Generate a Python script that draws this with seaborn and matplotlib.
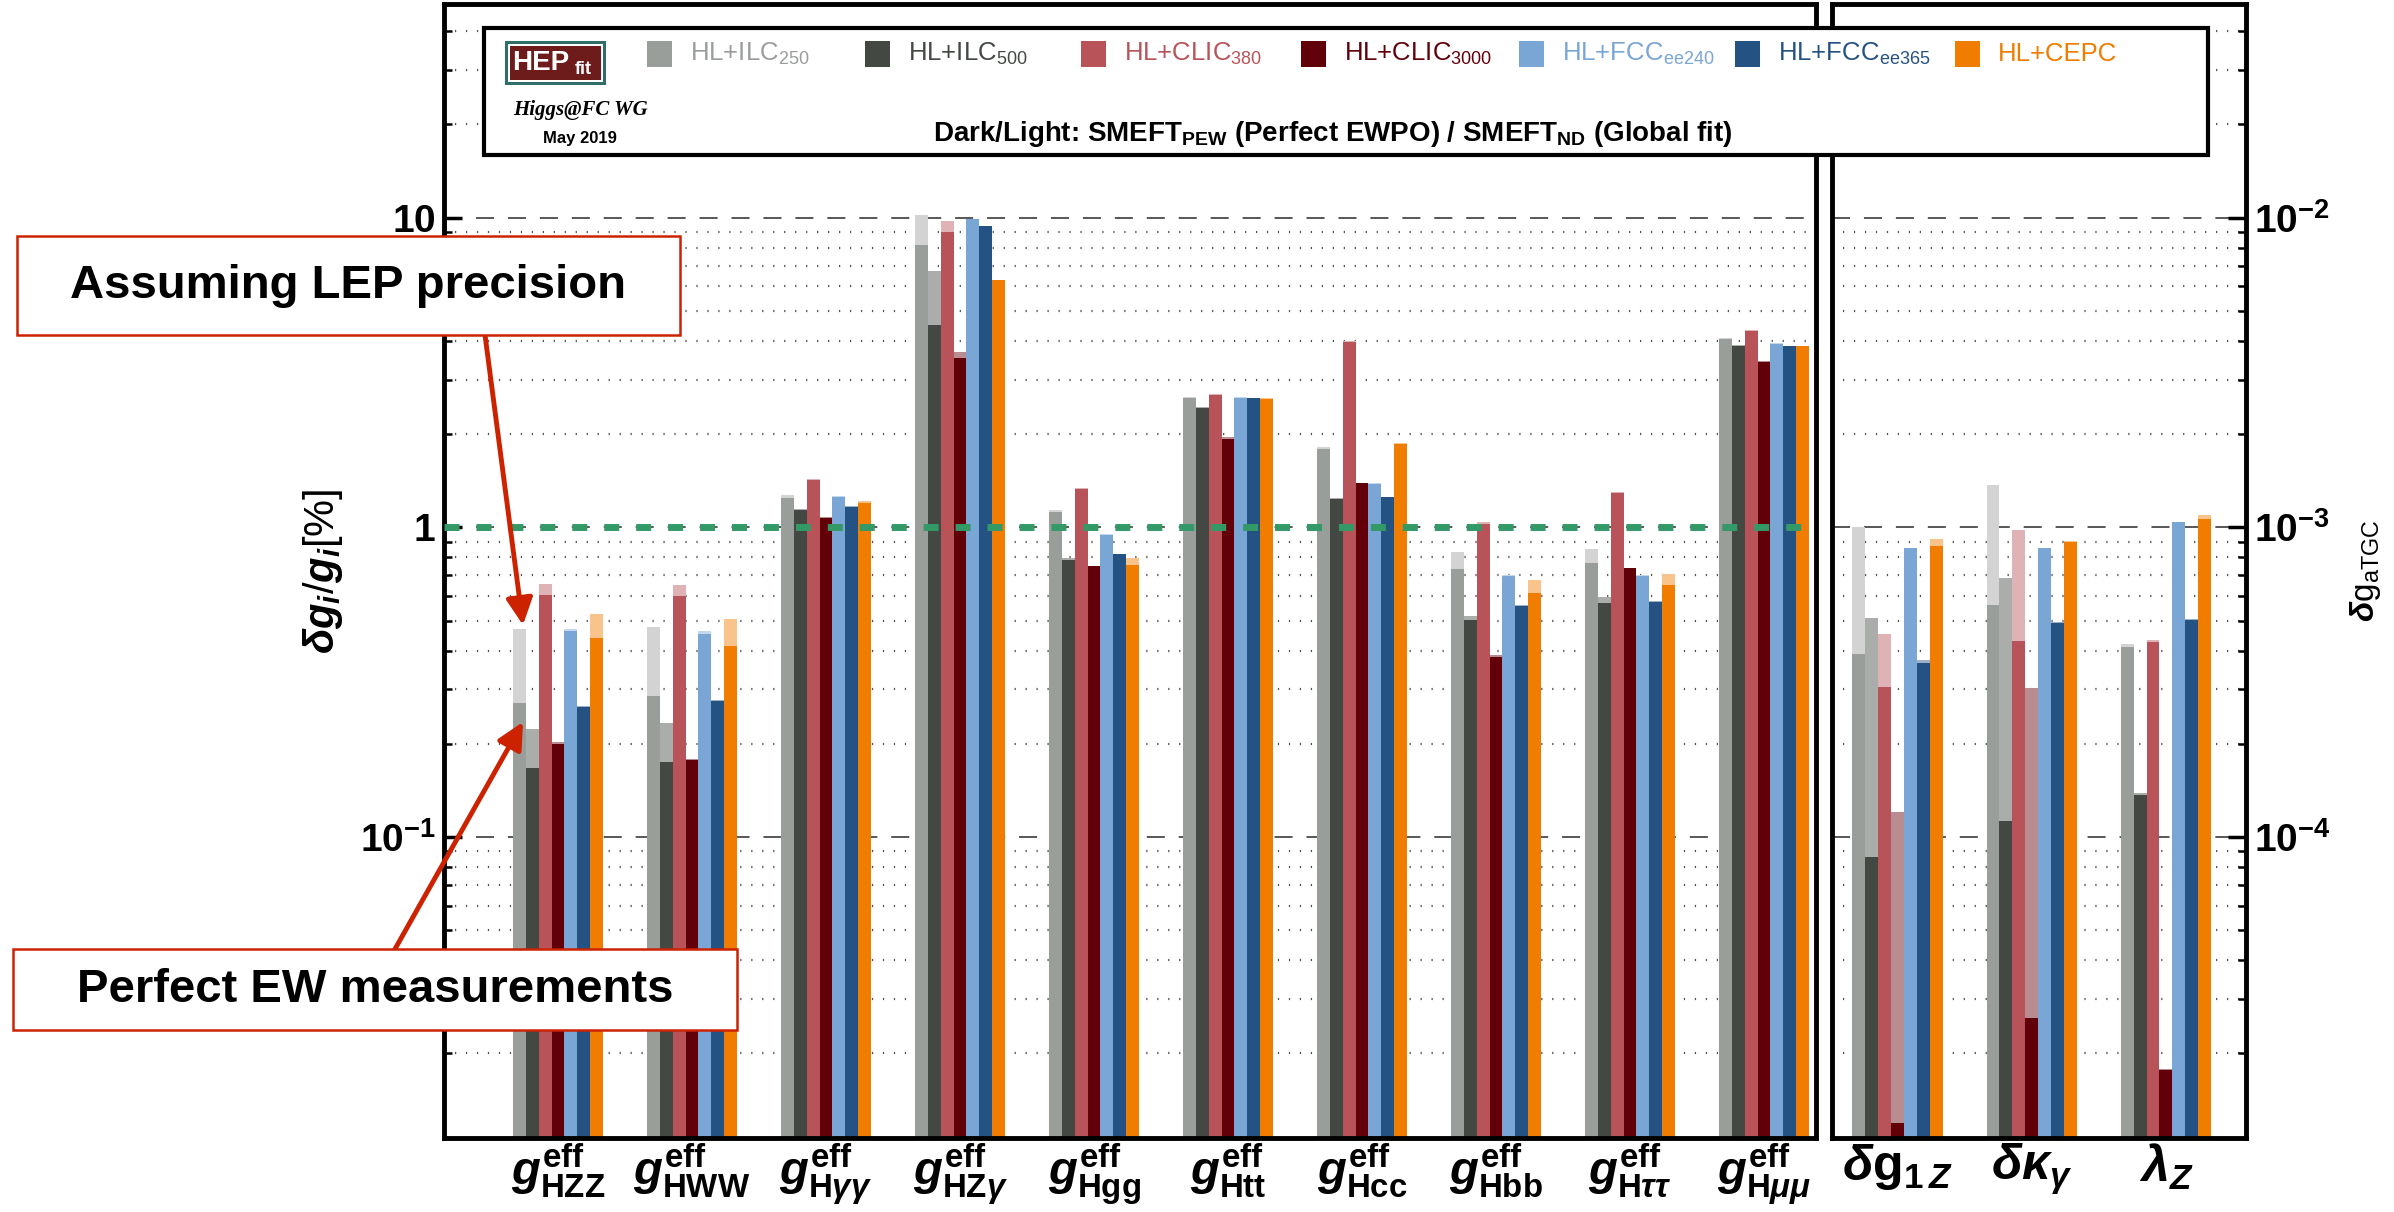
import numpy as np
import pandas as pd
import matplotlib.pyplot as plt
import matplotlib.ticker as mticker
from matplotlib.patches import Rectangle, FancyArrowPatch
from matplotlib.colors import to_rgb
import seaborn as sns

# colliders (hue order) and their legend labels
colliders = ['HL+ILC250', 'HL+ILC500', 'HL+CLIC380', 'HL+CLIC3000',
             'HL+FCCee240', 'HL+FCCee365', 'HL+CEPC']
legend_labels = [r'HL+ILC$_{250}$', r'HL+ILC$_{500}$', r'HL+CLIC$_{380}$',
                 r'HL+CLIC$_{3000}$', r'HL+FCC$_{\mathrm{ee}240}$',
                 r'HL+FCC$_{\mathrm{ee}365}$', 'HL+CEPC']
dark_colors = ['#9a9e9a', '#434843', '#b8535a', '#62000a',
               '#7aa6d6', '#245283', '#f07c00']

# Higgs couplings (left panel, in %)
higgs_couplings = ['HZZ', 'HWW', 'Hgaga', 'HZga', 'Hgg', 'Htt', 'Hcc', 'Hbb', 'Htata', 'Hmumu']
higgs_ticklabels = [r'$g^{\mathbf{eff}}_{\mathbf{HZZ}}$', r'$g^{\mathbf{eff}}_{\mathbf{HWW}}$',
                    r'$g^{\mathbf{eff}}_{\mathbf{H}\gamma\gamma}$', r'$g^{\mathbf{eff}}_{\mathbf{HZ}\gamma}$',
                    r'$g^{\mathbf{eff}}_{\mathbf{Hgg}}$', r'$g^{\mathbf{eff}}_{\mathbf{Htt}}$',
                    r'$g^{\mathbf{eff}}_{\mathbf{Hcc}}$', r'$g^{\mathbf{eff}}_{\mathbf{Hbb}}$',
                    r'$g^{\mathbf{eff}}_{\mathbf{H}\tau\tau}$', r'$g^{\mathbf{eff}}_{\mathbf{H}\mu\mu}$']

# light = SMEFT_ND (global fit), one row per collider
higgs_nd = [
    [0.468, 0.478, 1.27, 10.2, 1.14, 2.64, 1.82, 0.83, 0.85, 4.10],
    [0.224, 0.234, 1.15, 6.75, 0.794, 2.44, 1.247, 0.518, 0.597, 3.87],
    [0.658, 0.651, 1.43, 9.79, 1.344, 2.69, 4.00, 1.043, 1.30, 4.33],
    [0.203, 0.178, 1.08, 3.69, 0.750, 1.963, 1.394, 0.386, 0.740, 3.44],
    [0.471, 0.464, 1.26, 9.94, 0.950, 2.63, 1.39, 0.700, 0.700, 3.93],
    [0.264, 0.276, 1.17, 9.40, 0.822, 2.61, 1.257, 0.560, 0.577, 3.85],
    [0.525, 0.507, 1.22, 6.30, 0.794, 2.61, 1.877, 0.674, 0.708, 3.85],
]
# dark = SMEFT_PEW (perfect EWPO)
higgs_pew = [
    [0.270, 0.285, 1.24, 8.15, 1.12, 2.62, 1.79, 0.735, 0.767, 4.07],
    [0.167, 0.174, 1.14, 4.49, 0.787, 2.43, 1.232, 0.502, 0.569, 3.86],
    [0.604, 0.599, 1.42, 9.02, 1.33, 2.68, 3.98, 1.022, 1.29, 4.32],
    [0.200, 0.177, 1.07, 3.52, 0.748, 1.935, 1.39, 0.382, 0.739, 3.43],
    [0.464, 0.453, 1.25, 9.90, 0.947, 2.62, 1.385, 0.698, 0.698, 3.92],
    [0.262, 0.274, 1.166, 9.39, 0.820, 2.61, 1.256, 0.558, 0.575, 3.84],
    [0.438, 0.415, 1.20, 6.28, 0.754, 2.60, 1.854, 0.612, 0.651, 3.84],
]

# triple gauge couplings (right panel)
tgc_couplings = ['dg1Z', 'dkga', 'lamZ']
tgc_ticklabels = [r'$\delta\mathbf{g}_{\mathbf{1}\,Z}$', r'$\delta\kappa_{\gamma}$', r'$\lambda_{Z}$']
tgc_nd = [
    [1.00e-3, 1.37e-3, 0.420e-3],
    [0.510e-3, 0.685e-3, 0.139e-3],
    [0.452e-3, 0.981e-3, 0.433e-3],
    [0.120e-3, 0.303e-3, 0.0178e-3],
    [0.859e-3, 0.859e-3, 1.041e-3],
    [0.372e-3, 0.493e-3, 0.505e-3],
    [0.917e-3, 0.902e-3, 1.094e-3],
]
tgc_pew = [
    [0.390e-3, 0.560e-3, 0.411e-3],
    [0.0859e-3, 0.1125e-3, 0.1364e-3],
    [0.304e-3, 0.430e-3, 0.426e-3],
    [0.0119e-3, 0.0261e-3, 0.0177e-3],
    [0.855e-3, 0.855e-3, 1.038e-3],
    [0.364e-3, 0.490e-3, 0.502e-3],
    [0.868e-3, 0.895e-3, 1.065e-3],
]

W, H = 2394, 1212
Y_LO, Y_HI = 0.0107, 49.0

sns.set_style('white')
plt.rcParams['font.family'] = ['Liberation Sans', 'DejaVu Sans']
plt.rcParams['mathtext.fontset'] = 'custom'
plt.rcParams['mathtext.rm'] = 'Liberation Sans'
plt.rcParams['mathtext.it'] = 'Liberation Sans:bold:italic'
plt.rcParams['mathtext.bf'] = 'Liberation Sans:bold'
plt.rcParams['lines.scale_dashes'] = False
for k in ['text.color', 'axes.labelcolor', 'xtick.color', 'ytick.color']:
    plt.rcParams[k] = 'black'

# light tones = dark colour at ~45% over white
light_colors = [tuple(0.45 * np.array(to_rgb(c)) + 0.55) for c in dark_colors]


def fx(px):
    return px / W


def fy(py):
    return 1 - py / H


def to_long(names, nd, pew):
    rows = []
    for i, col in enumerate(colliders):
        for j, name in enumerate(names):
            rows.append((name, col, nd[i][j], pew[i][j]))
    return pd.DataFrame(rows, columns=['coupling', 'collider', 'nd', 'pew'])


def draw_bars(ax, df, names):
    ax.set_yscale('log')
    for col, pal in (('nd', light_colors), ('pew', dark_colors)):
        sns.barplot(data=df, x='coupling', y=col, hue='collider', order=names,
                    hue_order=colliders, palette=pal, width=0.675, errorbar=None,
                    legend=False, linewidth=0, saturation=1, ax=ax)


def style_axis(ax, names, ticklabels, labelsize):
    n = len(names)
    ax.set_xticks(range(n))
    ax.set_xticklabels(ticklabels)
    ax.set_xticks(np.arange(0.5, n - 1), minor=True)
    ax.tick_params(axis='x', which='major', length=0, pad=3, labelsize=labelsize)
    ax.tick_params(axis='x', which='minor', direction='in', length=9.5, width=2.5)
    ax.set_xlabel('')
    ax.set_axisbelow(True)
    ax.yaxis.set_minor_locator(mticker.LogLocator(base=10, subs=np.arange(2, 10), numticks=20))
    ax.yaxis.set_minor_formatter(mticker.NullFormatter())
    ax.grid(False, axis='x')
    ax.grid(True, which='major', axis='y', color='#4a4a4a', lw=1.3, linestyle=(0, (13, 10)))
    ax.grid(True, which='minor', axis='y', color='#555555', lw=1.6, linestyle=(0, (0.9, 7)))
    ax.tick_params(axis='y', which='major', direction='in', length=13, width=2.5,
                   labelsize=28, pad=6)
    ax.tick_params(axis='y', which='minor', direction='in', length=6, width=1.8)
    for sp in ax.spines.values():
        sp.set_linewidth(3.5)
        sp.set_color('black')


fig = plt.figure(figsize=(W / 100, H / 100), dpi=100)
ax1 = fig.add_axes([fx(444), fy(1137.5), (1816 - 444) / W, (1137.5 - 4) / H])
ax2 = fig.add_axes([fx(1832), fy(1137.5), (2246 - 1832) / W, (1137.5 - 4) / H])

# left panel: Higgs couplings
draw_bars(ax1, to_long(higgs_couplings, higgs_nd, higgs_pew), higgs_couplings)
style_axis(ax1, higgs_couplings, higgs_ticklabels, 34)
ax1.set_xlim(-0.851, 9.388)
ax1.set_ylim(Y_LO, Y_HI)
ax1.yaxis.set_major_locator(mticker.FixedLocator([0.1, 1, 10]))
ax1.yaxis.set_major_formatter(mticker.FixedFormatter(
    [r'$\mathbf{10^{-1}}$', r'$\mathbf{1}$', r'$\mathbf{10}$']))
ax1.tick_params(axis='y', which='both', left=True, right=False)
ax1.set_ylabel(r'$\delta g_i/g_i[\%]$', fontsize=30)
ax1.yaxis.set_label_coords(-0.072, 0.5)
ax1.axhline(1, color='#339966', lw=5, linestyle=(0, (10.8, 12.2)), zorder=5)

# right panel: aTGC
draw_bars(ax2, to_long(tgc_couplings, tgc_nd, tgc_pew), tgc_couplings)
style_axis(ax2, tgc_couplings, tgc_ticklabels, 36)
ax2.set_xlim(-0.49, 2.597)
ax2.set_ylim(Y_LO * 1e-3, Y_HI * 1e-3)
ax2.yaxis.tick_right()
ax2.yaxis.set_label_position('right')
ax2.yaxis.set_major_locator(mticker.FixedLocator([1e-4, 1e-3, 1e-2]))
ax2.yaxis.set_major_formatter(mticker.FixedFormatter(
    [r'$\mathbf{10^{-4}}$', r'$\mathbf{10^{-3}}$', r'$\mathbf{10^{-2}}$']))
ax2.tick_params(axis='y', which='both', left=False, right=True)
ax2.set_ylabel(r'$\delta\mathrm{g}_{\mathrm{aTGC}}$', fontsize=24)
ax2.yaxis.set_label_coords(1.246, 0.5)

# legend box across the top
fig.add_artist(Rectangle((fx(484), fy(155)), (2208 - 484) / W, (155 - 28) / H,
                         transform=fig.transFigure, facecolor='white',
                         edgecolor='black', lw=3, zorder=10))
sq_left = [647, 865, 1081, 1301, 1519, 1735, 1955]
for x0, lab, c in zip(sq_left, legend_labels, dark_colors):
    fig.add_artist(Rectangle((fx(x0), fy(67)), 25 / W, 26 / H, transform=fig.transFigure,
                             facecolor=c, edgecolor='none', zorder=11))
    fig.text(fx(x0 + 43), fy(54), lab, color=c, fontsize=18.5, va='center', ha='left', zorder=11)

# HEPfit logo
fig.add_artist(Rectangle((fx(505), fy(85)), 101 / W, 44 / H, transform=fig.transFigure,
                         facecolor='#2f6e69', edgecolor='none', zorder=11))
fig.add_artist(Rectangle((fx(508), fy(82)), 95 / W, 38 / H, transform=fig.transFigure,
                         facecolor='white', edgecolor='none', zorder=11))
fig.add_artist(Rectangle((fx(510), fy(80)), 91 / W, 34 / H, transform=fig.transFigure,
                         facecolor='#6d1b1b', edgecolor='none', zorder=11))
fig.text(fx(512), fy(63), 'HEP', color='white', fontsize=20, fontweight='bold',
         va='center', ha='left', zorder=12)
fig.text(fx(575), fy(70), 'fit', color='white', fontsize=13, fontweight='bold',
         va='center', ha='left', zorder=12)
fig.text(fx(581), fy(110), 'Higgs@FC WG', family=['Liberation Serif', 'DejaVu Serif'],
         style='italic', fontweight='bold', fontsize=15, ha='center', va='center', zorder=12)
fig.text(fx(580), fy(138), 'May 2019', fontsize=12, fontweight='bold',
         ha='center', va='center', zorder=12)
fig.text(fx(1333), fy(134),
         r'Dark/Light: SMEFT$_{\mathbf{PEW}}$ (Perfect EWPO) / SMEFT$_{\mathbf{ND}}$ (Global fit)',
         fontsize=20, fontweight='bold', ha='center', va='center', zorder=12)

# annotation boxes and arrows
red = '#cc2200'
for (x0, y0, x1, y1, cx, cy, txt) in [(17, 236, 680, 335, 348, 286, 'Assuming LEP precision'),
                                       (13, 949, 737, 1030, 375, 990, 'Perfect EW measurements')]:
    fig.add_artist(Rectangle((fx(x0), fy(y1)), (x1 - x0) / W, (y1 - y0) / H,
                             transform=fig.transFigure, facecolor='white',
                             edgecolor=red, lw=1.8, zorder=12))
    fig.text(fx(cx), fy(cy), txt, fontsize=34, fontweight='bold',
             ha='center', va='center', zorder=13)
for (xa, ya, xb, yb) in [(485, 335, 523, 625), (395, 949, 523, 722)]:
    fig.add_artist(FancyArrowPatch((fx(xa), fy(ya)), (fx(xb), fy(yb)),
                                   transform=fig.transFigure, arrowstyle='-|>',
                                   mutation_scale=40, color=red, lw=3.5,
                                   shrinkA=0, shrinkB=0, zorder=11))

fig.savefig('out.png', dpi=100)
